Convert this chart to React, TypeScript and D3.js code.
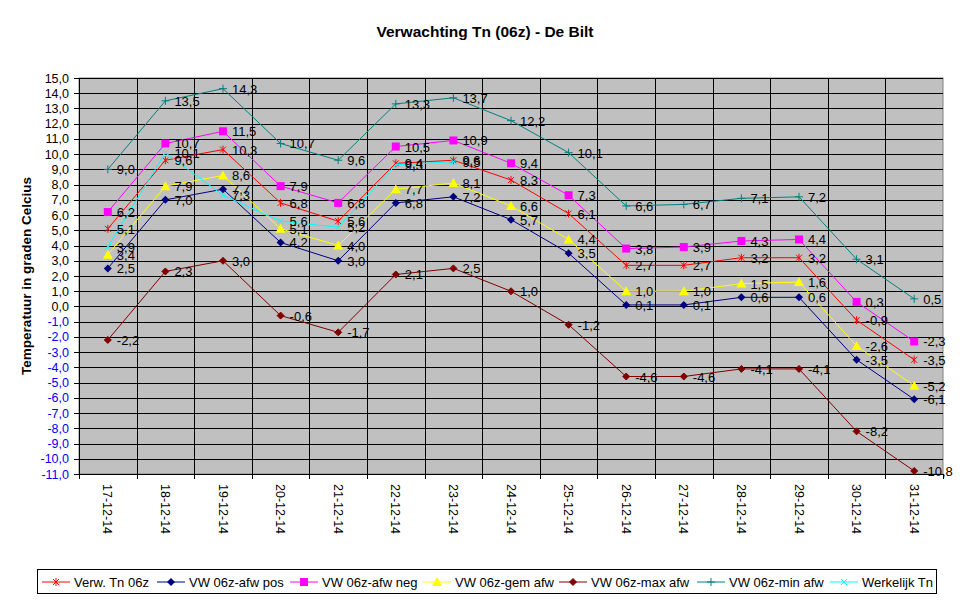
import React, { useEffect } from 'react';
import * as d3 from 'd3';

// data
const dates = ['17-12-14', '18-12-14', '19-12-14', '20-12-14', '21-12-14', '22-12-14', '23-12-14', '24-12-14',
  '25-12-14', '26-12-14', '27-12-14', '28-12-14', '29-12-14', '30-12-14', '31-12-14'];
const verwTn = [5.1, 9.6, 10.3, 6.8, 5.6, 9.4, 9.6, 8.3, 6.1, 2.7, 2.7, 3.2, 3.2, -0.9, -3.5];
const afwPos = [2.5, 7.0, 7.7, 4.2, 3.0, 6.8, 7.2, 5.7, 3.5, 0.1, 0.1, 0.6, 0.6, -3.5, -6.1];
const afwNeg = [6.2, 10.7, 11.5, 7.9, 6.8, 10.5, 10.9, 9.4, 7.3, 3.8, 3.9, 4.3, 4.4, 0.3, -2.3];
const gemAfw = [3.4, 7.9, 8.6, 5.1, 4.0, 7.7, 8.1, 6.6, 4.4, 1.0, 1.0, 1.5, 1.6, -2.6, -5.2];
const maxAfw = [-2.2, 2.3, 3.0, -0.6, -1.7, 2.1, 2.5, 1.0, -1.2, -4.6, -4.6, -4.1, -4.1, -8.2, -10.8];
const minAfw = [9.0, 13.5, 14.3, 10.7, 9.6, 13.3, 13.7, 12.2, 10.1, 6.6, 6.7, 7.1, 7.2, 3.1, 0.5];
const werkelijkTn: (number | null)[] = [3.9, 10.1, 7.3, 5.6, 5.2, 9.3, 9.5, null, null, null, null, null, null, null, null];
const yTicks = d3.range(-11, 16, 1);

type Marker = 'star' | 'diamond' | 'square' | 'triangle' | 'dot' | 'plus' | 'cross';
const series: { name: string; values: (number | null)[]; color: string; marker: Marker }[] = [
  { name: 'Verw. Tn 06z', values: verwTn, color: '#FF0000', marker: 'star' },
  { name: 'VW 06z-afw pos', values: afwPos, color: '#000080', marker: 'diamond' },
  { name: 'VW 06z-afw neg', values: afwNeg, color: '#FF00FF', marker: 'square' },
  { name: 'VW 06z-gem afw', values: gemAfw, color: '#FFFF00', marker: 'triangle' },
  { name: 'VW 06z-max afw', values: maxAfw, color: '#800000', marker: 'dot' },
  { name: 'VW 06z-min afw', values: minAfw, color: '#008080', marker: 'plus' },
  { name: 'Werkelijk Tn', values: werkelijkTn, color: '#00FFFF', marker: 'cross' },
];
const legendX = [42, 157, 290, 423, 559, 697, 830];

const W = 969, H = 602;
const plot = { left: 79, right: 943, top: 78, bottom: 474 };
const font = 'Arial, "Liberation Sans", sans-serif';
const fmt = (v: number) => v.toFixed(1).replace('.', ',');

const MarkerShape: React.FC<{ type: Marker; x: number; y: number; color: string }> = ({ type, x, y, color }) => {
  switch (type) {
    case 'star':
      return <path d={`M${x - 3},${y - 3}L${x + 3},${y + 3}M${x - 3},${y + 3}L${x + 3},${y - 3}M${x},${y - 4}L${x},${y + 4}`} stroke={color} strokeWidth={1} />;
    case 'diamond':
      return <path d={`M${x},${y - 4}L${x + 4},${y}L${x},${y + 4}L${x - 4},${y}Z`} fill={color} />;
    case 'square':
      return <rect x={x - 4} y={y - 4} width={8} height={8} fill={color} />;
    case 'triangle':
      return <path d={`M${x},${y - 5}L${x + 5},${y + 4}L${x - 5},${y + 4}Z`} fill={color} />;
    case 'dot':
      return <path d={`M${x},${y - 3.5}L${x + 3.5},${y}L${x},${y + 3.5}L${x - 3.5},${y}Z`} fill={color} stroke={color} strokeWidth={1} />;
    case 'plus':
      return <path d={`M${x - 4},${y}L${x + 4},${y}M${x},${y - 4}L${x},${y + 4}`} stroke={color} strokeWidth={1} />;
    case 'cross':
      return <path d={`M${x - 3},${y - 3}L${x + 3},${y + 3}M${x - 3},${y + 3}L${x + 3},${y - 3}`} stroke={color} strokeWidth={1} />;
  }
};

const App: React.FC = () => {
  useEffect(() => {
    document.body.style.margin = '0';
  }, []);

  const x = d3.scaleBand().domain(dates).range([plot.left, plot.right]).padding(0);
  const y = d3.scaleLinear().domain([-11, 15]).range([plot.bottom, plot.top]);
  const cx = (d: string) => (x(d) || 0) + x.bandwidth() / 2;

  return (
    <svg width={W} height={H} style={{ display: 'block', fontFamily: font }}>
      <rect width={W} height={H} fill="#fff" />
      <text x={485} y={37} textAnchor="middle" fontSize={15.5} fontWeight="bold">Verwachting Tn (06z) - De Bilt</text>

      {/* plot area */}
      <rect x={plot.left} y={plot.top} width={plot.right - plot.left} height={plot.bottom - plot.top} fill="#C0C0C0" stroke="#808080" strokeWidth={1} />
      {yTicks.map(t => (
        <line key={'h' + t} x1={plot.left} x2={plot.right} y1={Math.round(y(t)) + 0.5} y2={Math.round(y(t)) + 0.5} stroke="#000" strokeWidth={1} />
      ))}
      {dates.slice(1).map(d => (
        <line key={'v' + d} x1={Math.round(x(d) || 0) + 0.5} x2={Math.round(x(d) || 0) + 0.5} y1={plot.top} y2={plot.bottom + 5} stroke="#000" strokeWidth={1} />
      ))}
      <line x1={plot.left + 0.5} x2={plot.left + 0.5} y1={plot.top} y2={plot.bottom + 5} stroke="#000" />
      <line x1={plot.right + 0.5} x2={plot.right + 0.5} y1={plot.bottom} y2={plot.bottom + 5} stroke="#000" />

      {/* y axis */}
      {yTicks.map(t => (
        <g key={'yt' + t}>
          <line x1={plot.left - 5} x2={plot.left} y1={Math.round(y(t)) + 0.5} y2={Math.round(y(t)) + 0.5} stroke="#000" />
          <text x={plot.left - 10} y={y(t) + 4.5} textAnchor="end" fontSize={12.5} fill={t < 0 ? '#0000FF' : '#000'}>{fmt(t)}</text>
        </g>
      ))}
      <text transform={`translate(31,${(plot.top + plot.bottom) / 2}) rotate(-90)`} textAnchor="middle" fontSize={13.5} fontWeight="bold">
        Temperatuur in graden Celcius
      </text>

      {/* x axis labels */}
      {dates.map(d => (
        <text key={'xl' + d} transform={`translate(${cx(d) - 4.5},${plot.bottom + 10}) rotate(90)`} fontSize={12.5}>{d}</text>
      ))}

      {/* series */}
      {series.map(s => {
        const line = d3.line<number | null>()
          .defined(v => v !== null)
          .x((_, i) => cx(dates[i]))
          .y(v => y(v as number));
        return (
          <g key={s.name}>
            <path d={line(s.values) || ''} fill="none" stroke={s.color} strokeWidth={1} />
            {s.values.map((v, i) => v === null ? null : (
              <MarkerShape key={i} type={s.marker} x={cx(dates[i])} y={y(v)} color={s.color} />
            ))}
          </g>
        );
      })}
      {/* data labels */}
      {series.map(s => s.values.map((v, i) => v === null ? null : (
        <text key={s.name + i} x={cx(dates[i]) + 9} y={y(v) + 5} fontSize={13} fill="#000">{fmt(v)}</text>
      )))}

      {/* legend */}
      <rect x={37.5} y={569.5} width={899} height={24} fill="#fff" stroke="#000" />
      {series.map((s, i) => (
        <g key={'lg' + s.name}>
          <line x1={legendX[i]} x2={legendX[i] + 28} y1={582} y2={582} stroke={s.color} />
          <MarkerShape type={s.marker} x={legendX[i] + 14} y={582} color={s.color} />
          <text x={legendX[i] + 32} y={586.5} fontSize={13}>{s.name}</text>
        </g>
      ))}
    </svg>
  );
};

export default App;
